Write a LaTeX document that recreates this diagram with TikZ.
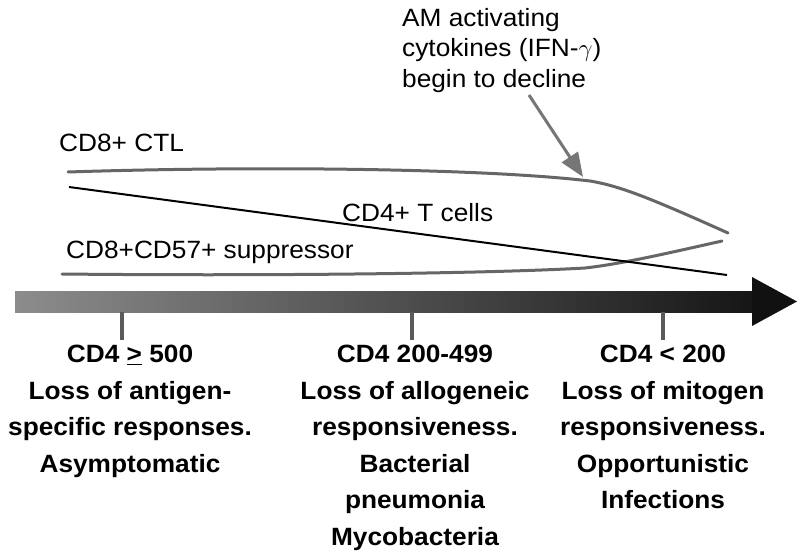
\documentclass[tikz,border=0pt]{standalone}
\usepackage{fontspec}
\setmainfont[FakeStretch=1.05]{Liberation Sans}
\usetikzlibrary{arrows.meta}
\definecolor{curvegray}{RGB}{102,102,102}
\definecolor{arrowgray}{RGB}{118,118,118}
\definecolor{tickgray}{RGB}{90,90,90}
\definecolor{barleft}{RGB}{140,140,140}
\definecolor{barright}{RGB}{22,22,22}
\definecolor{headblack}{RGB}{17,17,17}
\begin{document}
\begin{tikzpicture}[x=1pt,y=-1pt,
  lbl/.style={inner sep=0pt, font=\fontsize{25}{30.5}\selectfont},
  stage/.style={inner sep=0pt, align=center, anchor=north, font=\fontsize{25}{36.5}\selectfont\bfseries},
  cell/.style={line width=3pt, curvegray, line cap=round},
  tickmark/.style={line width=4pt, tickgray},
  pointer/.style={line width=3pt, arrowgray, -{Triangle[length=24pt,width=19pt]}}]
\useasboundingbox (0,0) rectangle (800,556);
% timeline arrow
\shade[left color=barleft, right color=barright] (15,291) rectangle (754,312);
\fill[headblack] (752,277) -- (797,301.5) -- (752,326) -- cycle;
% ticks
\coordinate (t1a) at (122,312); \coordinate (t1b) at (122,340);
\coordinate (t2a) at (412,312); \coordinate (t2b) at (412,340);
\coordinate (t3a) at (663,312); \coordinate (t3b) at (663,340);
\draw[tickmark] (t1a) -- (t1b);
\draw[tickmark] (t2a) -- (t2b);
\draw[tickmark] (t3a) -- (t3b);
% curves
\coordinate (ctlA) at (68,172);
\coordinate (ctlB) at (590,181);
\coordinate (ctlC) at (728,233);
\draw[cell] (ctlA) .. controls (250,166) and (480,168) .. (ctlB)
            .. controls (620,186) and (650,198) .. (ctlC);
\coordinate (supA) at (62,274);
\coordinate (supB) at (585,268);
\coordinate (supC) at (722,241);
\draw[cell] (supA) .. controls (250,276) and (480,274) .. (supB)
            .. controls (620,264) and (660,255) .. (supC);
\coordinate (cd4A) at (69,187);
\coordinate (cd4B) at (727,275);
\draw[line width=2pt, black] (cd4A) -- (cd4B);
% pointer
\coordinate (pA) at (529,95);
\coordinate (pB) at (583,177);
\draw[pointer] (pA) -- (pB);
% labels
\node[lbl, anchor=base west] (lctl) at (59,152) {CD8+ CTL};
\node[lbl, anchor=base west] (lcd4) at (342,222) {CD4+ T cells};
\node[lbl, anchor=base west] (lsup) at (66,258) {CD8+CD57+ suppressor};
\node[lbl, anchor=north west, align=left] (lam) at (402,8)
  {AM activating\\cytokines (IFN-$\gamma$)\\begin to decline};
% stages
\node[stage] (s1) at (130,345) {CD4 \underline{>} 500\\Loss of antigen-\\specific responses.\\Asymptomatic};
\node[stage] (s2) at (415,345) {CD4 200-499\\Loss of allogeneic\\responsiveness.\\Bacterial\\pneumonia\\Mycobacteria};
\node[stage] (s3) at (663,345) {CD4 < 200\\Loss of mitogen\\responsiveness.\\Opportunistic\\Infections};
\end{tikzpicture}
\end{document}
